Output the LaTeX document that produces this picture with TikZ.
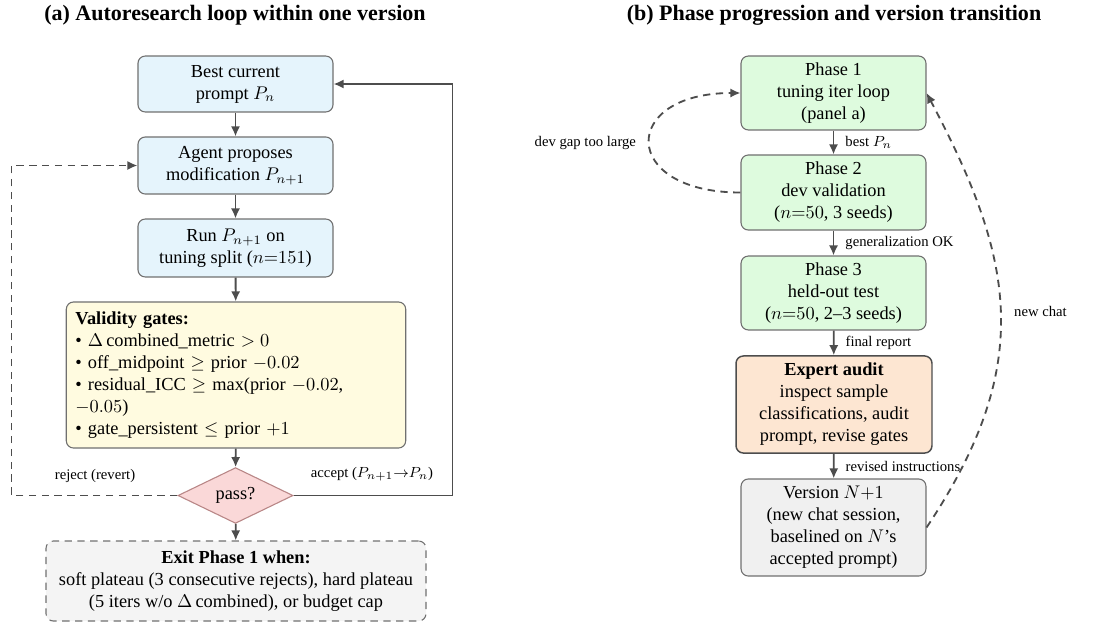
\documentclass[tikz,border=0pt]{standalone}
\usepackage[no-math]{fontspec}
\setmainfont{LiberationSerif}[
    Extension=.ttf,
    UprightFont=*-Regular,
    BoldFont=*-Bold,
    ItalicFont=*-Italic,
    BoldItalicFont=*-BoldItalic]
\usepackage{xcolor}
\usepackage{tikz}
\usetikzlibrary{arrows.meta,shapes.geometric,positioning}
\definecolor{boxline}{RGB}{112,112,112}
\definecolor{flowgray}{RGB}{77,77,77}
\definecolor{loopblue}{RGB}{229,244,252}
\definecolor{gatecream}{RGB}{255,251,224}
\definecolor{phasegreen}{RGB}{222,251,222}
\definecolor{auditpeach}{RGB}{253,230,210}
\definecolor{versiongray}{RGB}{240,240,240}
\definecolor{exitgray}{RGB}{244,244,244}
\definecolor{passpink}{RGB}{250,216,216}
\definecolor{passline}{RGB}{185,135,135}

\begin{document}
\begin{tikzpicture}[x=0.545pt,y=-0.545pt,
    stepbox/.style={draw=boxline,line width=0.6pt,rounded corners=4pt,align=center,inner sep=2pt},
    loopbox/.style={stepbox,fill=loopblue,minimum width=106.3pt},
    phasebox/.style={stepbox,fill=phasegreen,minimum width=100.8pt},
    flow/.style={draw=flowgray,line width=1pt,-{Latex[length=5.5pt,width=5pt]}},
    backflow/.style={flow,dash pattern=on 4pt off 3pt},
    edgetext/.style={font=\footnotesize,inner sep=1pt}]
    \useasboundingbox (0,0) rectangle (1105,624);

    % (a) loop within one version
    \node (titleA) at (235,15) {\large\bfseries (a) Autoresearch loop within one version};
    \node[loopbox,minimum height=30.5pt] (best) at (235.5,84) {Best current\\prompt $P_n$};
    \node[loopbox,minimum height=31.1pt] (agent) at (235.5,165.5) {Agent proposes\\modification $P_{n+1}$};
    \node[loopbox,minimum height=31.6pt] (run) at (235.5,248) {Run $P_{n+1}$ on\\tuning split ($n{=}151$)};
    \node[stepbox,fill=gatecream,align=left,text width=175pt,inner sep=5pt,minimum height=79.6pt] (gates) at (236,375) {
        \textbf{Validity gates:}\\
        \textbullet~$\Delta$\,combined\_metric $>0$\\
        \textbullet~off\_midpoint $\geq$ prior $-0.02$\\
        \textbullet~residual\_ICC $\geq$ max(prior $-0.02$,\\
        $-0.05$)\\
        \textbullet~gate\_persistent $\leq$ prior $+1$};
    \node[diamond,draw=passline,fill=passpink,line width=0.6pt,inner sep=0pt,minimum width=62.7pt,minimum height=23.4pt] (pass) at (235.5,495.5) {pass?};
    \node[stepbox,fill=exitgray,dash pattern=on 4pt off 3pt,minimum width=207.1pt,minimum height=43.6pt] (exit) at (236,581) {
        \textbf{Exit Phase 1 when:}\\
        soft plateau (3 consecutive rejects), hard plateau\\
        (5 iters w/o $\Delta$\,combined), or budget cap};

    \draw[flow] (best) -- (agent);
    \draw[flow] (agent) -- (run);
    \draw[flow] (run) -- (gates);
    \draw[flow] (gates) -- (pass);
    \draw[flow] (pass) -- (exit);
    \draw[backflow] (pass.west) -- ++(-166,0) |- (agent.west);
    \draw[flow] (pass.east) -- ++(159,0) |- (best.east);
    \node[edgetext] (rejecttext) at (95,476) {reject (revert)};
    \node[edgetext] (accepttext) at (372,474) {accept ($P_{n+1}{\rightarrow}P_n$)};

    % (b) phases and version transition
    \node (titleB) at (834,15) {\large\bfseries (b) Phase progression and version transition};
    \node[phasebox,minimum height=40.3pt] (phase1) at (833.5,93) {Phase 1\\tuning iter loop\\(panel a)};
    \node[phasebox,minimum height=40.9pt] (phase2) at (833.5,192.5) {Phase 2\\dev validation\\($n{=}50$, 3 seeds)};
    \node[phasebox,minimum height=40.3pt] (phase3) at (833.5,293) {Phase 3\\held-out test\\($n{=}50$, 2--3 seeds)};
    \node[stepbox,fill=auditpeach,draw=flowgray,line width=0.8pt,minimum width=106.8pt,minimum height=52.9pt] (audit) at (834,404.5) {\textbf{Expert audit}\\inspect sample\\classifications, audit\\prompt, revise gates};
    \node[stepbox,fill=versiongray,minimum width=100.8pt,minimum height=52.9pt] (version) at (833.5,527.5) {Version $N{+}1$\\(new chat session,\\baselined on $N$'s\\accepted prompt)};

    \draw[flow] (phase1) -- node[edgetext,right=5pt] {best $P_n$} (phase2);
    \draw[flow] (phase2) -- node[edgetext,right=5pt] {generalization OK} (phase3);
    \draw[flow] (phase3) -- node[edgetext,right=5pt] {final report} (audit);
    \draw[flow] (audit) -- node[edgetext,right=5pt] {revised instructions} (version);
    \draw[backflow] (phase2.west) .. controls +(-121,0) and +(-121,0) .. node[edgetext,left=6pt] {dev gap too large} (phase1.west);
    \draw[backflow] (version.east) .. controls (1035,365) and (1015,260) .. node[edgetext,right=6pt] {new chat} (phase1.east);
\end{tikzpicture}
\end{document}
